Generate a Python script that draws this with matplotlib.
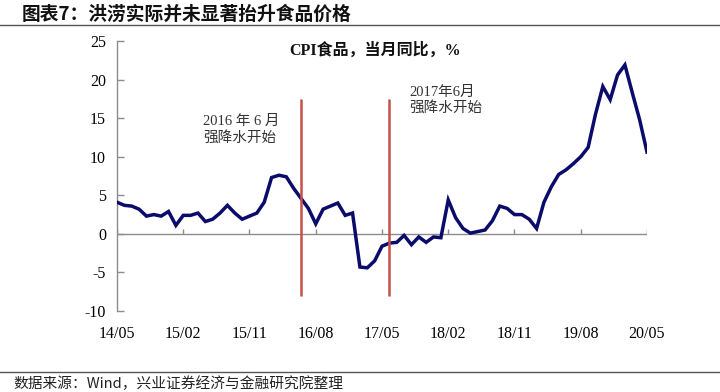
import matplotlib
matplotlib.use("Agg")
import matplotlib.pyplot as plt
import numpy as np

# CPI food YoY (%), monthly 2014/05 - 2020/05
values = [4.1, 3.7, 3.6, 3.2, 2.3, 2.5, 2.3, 2.9,
          1.1, 2.4, 2.4, 2.7, 1.6, 1.9, 2.7, 3.7, 2.7, 1.9, 2.3, 2.7,
          4.1, 7.3, 7.6, 7.4, 5.9, 4.6, 3.3, 1.3, 3.2, 3.6, 4.0, 2.4,
          2.7, -4.3, -4.4, -3.5, -1.6, -1.2, -1.1, -0.2, -1.4, -0.4, -1.1, -0.4,
          -0.5, 4.4, 2.1, 0.7, 0.1, 0.3, 0.5, 1.7, 3.6, 3.3, 2.5, 2.5,
          1.9, 0.7, 4.1, 6.1, 7.7, 8.3, 9.1, 10.0, 11.2, 15.5, 19.1, 17.4,
          20.6, 21.9, 18.3, 14.8, 10.6]
start_year, start_month = 2014, 5
tick_labels = ["14/05", "15/02", "15/11", "16/08", "17/05", "18/02", "18/11", "19/08", "20/05"]
y_ticks = [25, 20, 15, 10, 5, 0, -5, -10]
events = [(2016, 6), (2017, 6)]
event_texts = ["2016 年 6 月\n强降水开始", "2017年6月\n强降水开始"]
event_range = (-8, 17.5)

title = "图表7：洪涝实际并未显著抬升食品价格"
source = "数据来源：Wind，兴业证券经济与金融研究院整理"
series_label = "CPI食品，当月同比，%"

CJK = "Noto Sans CJK SC"
SERIF = "Liberation Serif"

def month_index(y, m):
    return (y - start_year) * 12 + (m - start_month)

x = np.arange(len(values))
tick_pos = [month_index(2000 + int(t[:2]), int(t[3:])) for t in tick_labels]

fig = plt.figure(figsize=(7.2, 3.92), dpi=100)
ax = fig.add_axes([0.1625, 0.2066, 0.8986 - 0.1625, 0.8954 - 0.2066])

ax.plot(x, values, color="#0B0B6B", lw=2.5, solid_joinstyle="miter", zorder=3)

for (ey, em) in events:
    ax.vlines(month_index(ey, em), event_range[0], event_range[1],
              color="#C8504B", lw=1.8, zorder=4)

ax.axhline(0, color="#8C8C8C", lw=1.0, zorder=1)
ax.vlines(tick_pos, 0, 0.65, color="#8C8C8C", lw=1.0, zorder=1)

ax.set_xlim(0, len(values) - 1)
ax.set_ylim(-10, 25)
ax.set_xticks(tick_pos)
ax.set_xticklabels(tick_labels, family=SERIF, fontsize=11.5)
ax.set_yticks(y_ticks)
ax.set_yticklabels([str(v) for v in y_ticks], family=SERIF, fontsize=11.5)
ax.tick_params(axis="x", length=0, pad=11)
ax.tick_params(axis="y", direction="in", length=5, color="#8C8C8C", width=1.0, pad=8)
for s in ["top", "right", "bottom"]:
    ax.spines[s].set_visible(False)
ax.spines["left"].set_color("#8C8C8C")
ax.spines["left"].set_linewidth(1.0)

ax.text(0.487, 0.965, series_label, transform=ax.transAxes, ha="center", va="center",
        family=[SERIF, CJK], fontsize=11.5, fontweight="bold", color="#111111")

ax.text(11.7, 13.5, event_texts[0], ha="left", va="center",
        family=[SERIF, CJK], fontsize=10.5, color="#333333", linespacing=1.25)
ax.text(39.7, 17.3, event_texts[1], ha="left", va="center",
        family=[SERIF, CJK], fontsize=10.5, color="#333333", linespacing=1.2)

fig.text(0.030, 0.963, title, ha="left", va="center", family=[CJK], fontsize=13.5,
         fontweight="bold", color="#111111")
fig.add_artist(plt.Line2D([0.0, 0.998], [0.936, 0.936], transform=fig.transFigure,
                          color="#555555", lw=1.0))
fig.add_artist(plt.Line2D([0.0, 0.998], [0.051, 0.051], transform=fig.transFigure,
                          color="#555555", lw=1.0))
fig.text(0.018, 0.022, source, ha="left", va="center", family=[CJK, "DejaVu Sans"],
         fontsize=10.6, color="#222222")

fig.savefig("out.png", dpi=100, facecolor="white")
